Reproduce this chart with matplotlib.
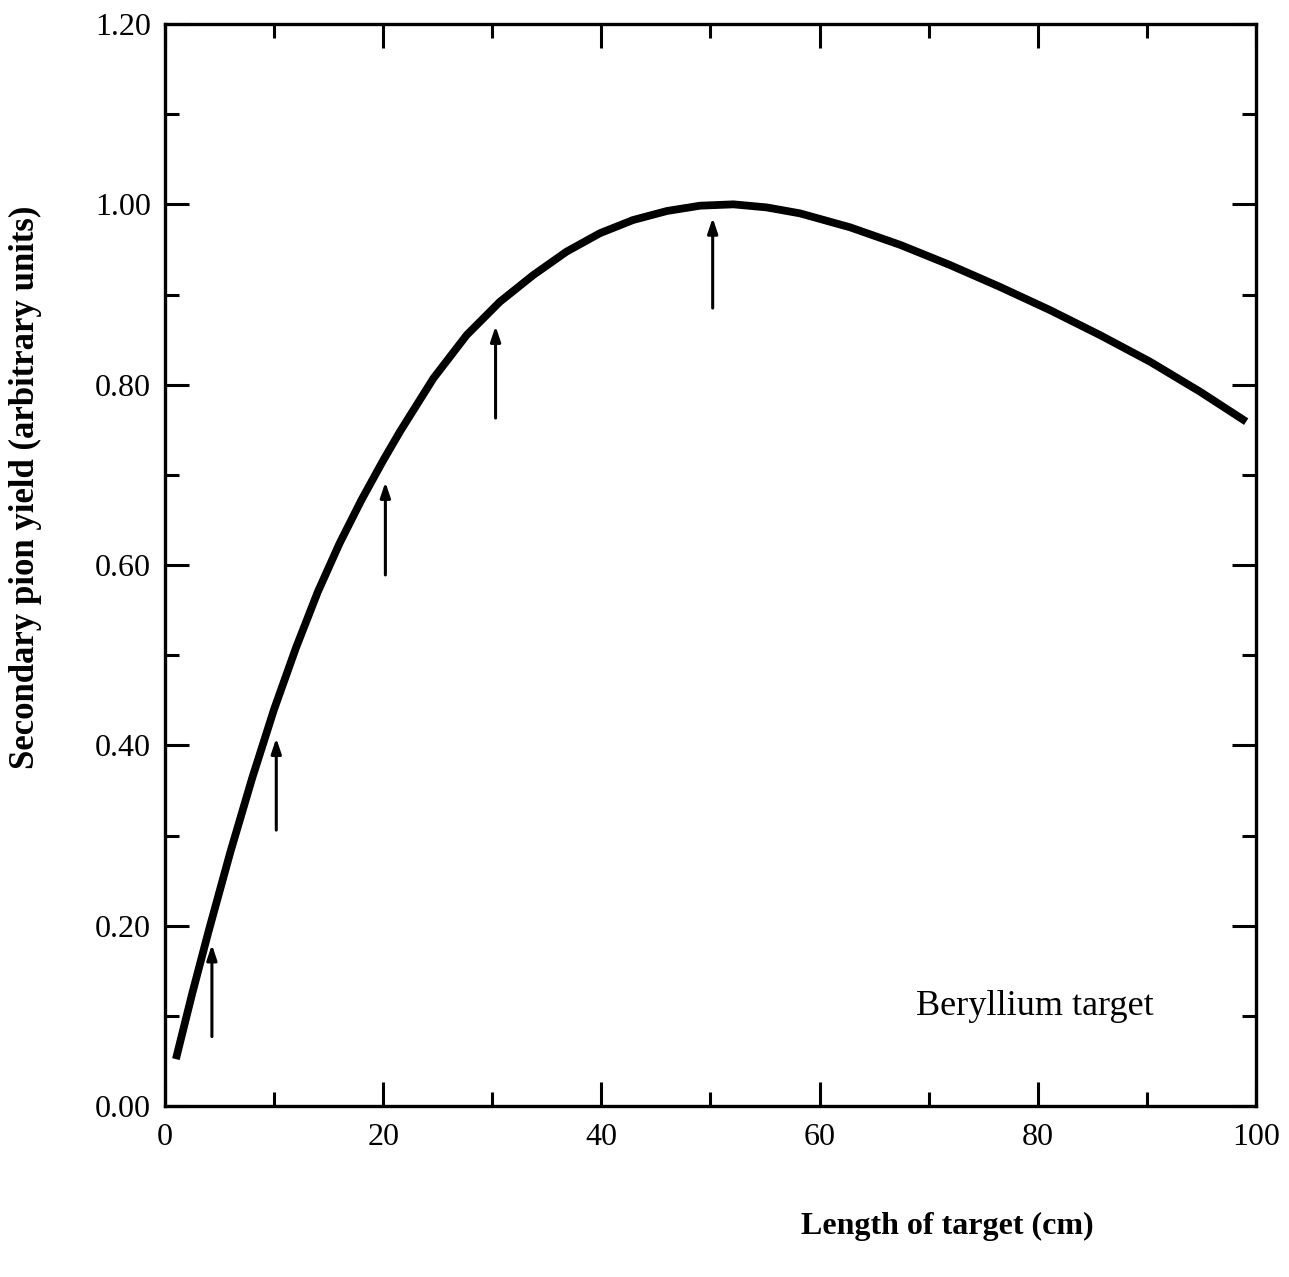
import matplotlib
matplotlib.use("Agg")
import matplotlib.pyplot as plt
from matplotlib.ticker import MultipleLocator, FixedLocator

# Data
length_cm = [1.0, 2.5, 4.0, 6.0, 8.0, 10.0, 12.0, 14.0, 16.0, 18.0, 20.0,
             21.54, 24.6, 27.65, 30.7, 33.76, 36.8, 39.87, 42.9, 46.0, 49.04,
             52.1, 55.15, 58.2, 62.8, 67.4, 71.95, 76.5, 81.1, 85.7, 90.3, 94.9, 99.1]
pion_yield = [0.052, 0.125, 0.194, 0.282, 0.364, 0.440, 0.508, 0.570, 0.624, 0.672, 0.716,
              0.748, 0.807, 0.855, 0.892, 0.9216, 0.9475, 0.968, 0.9826, 0.9926, 0.9985,
              1.000, 0.9966, 0.990, 0.9745, 0.955, 0.9327, 0.9086, 0.8828, 0.855, 0.8254, 0.792, 0.759]

arrow_x = [4.3, 10.2, 20.2, 30.3, 50.2]
arrow_base = [0.077, 0.306, 0.589, 0.763, 0.885]
arrow_tip = [0.179, 0.408, 0.692, 0.865, 0.985]

xticks = [0, 20, 40, 60, 80, 100]
yticks = [0.0, 0.2, 0.4, 0.6, 0.8, 1.0, 1.2]
ytick_labels = ["0.00", "0.20", "0.40", "0.60", "0.80", "1.00", "1.20"]

plt.rcParams["font.family"] = ["Liberation Serif", "DejaVu Serif"]

fig = plt.figure(figsize=(12.89, 12.77), dpi=100)
ax = fig.add_axes([0.128, 0.1339, 0.9744 - 0.128, 0.9812 - 0.1339])

ax.plot(length_cm, pion_yield, color="black", linewidth=5.6, solid_capstyle="butt",
        solid_joinstyle="round")

for xa, yb, yt in zip(arrow_x, arrow_base, arrow_tip):
    ax.annotate("", xy=(xa, yt), xytext=(xa, yb),
                arrowprops=dict(arrowstyle="-|>,head_length=0.9,head_width=0.3",
                                color="black", lw=2.2, shrinkA=0, shrinkB=0))

ax.text(79.7, 0.11, "Beryllium target", fontsize=26, ha="center", va="center")

ax.set_xlim(0, 100)
ax.set_ylim(0, 1.2)
ax.xaxis.set_major_locator(FixedLocator(xticks))
ax.xaxis.set_minor_locator(MultipleLocator(10))
ax.yaxis.set_major_locator(FixedLocator(yticks))
ax.set_yticklabels(ytick_labels)
ax.yaxis.set_minor_locator(MultipleLocator(0.1))

for s in ax.spines.values():
    s.set_linewidth(2.4)

ax.tick_params(which="both", direction="in", top=True, right=True, width=2.2,
               labelsize=23, pad=10)
ax.tick_params(axis="x", pad=12)
ax.tick_params(which="major", length=17)
ax.tick_params(which="minor", length=10)

fig.text(947 / 1289, 1 - 1226 / 1277, "Length of target (cm)", fontsize=23,
         fontweight="bold", ha="center", va="center")
fig.text(25 / 1289, 1 - 487 / 1277, "Secondary pion yield (arbitrary units)", fontsize=25,
         fontweight="bold", ha="center", va="center", rotation=90)

fig.savefig("out.png", dpi=100, facecolor="white")
